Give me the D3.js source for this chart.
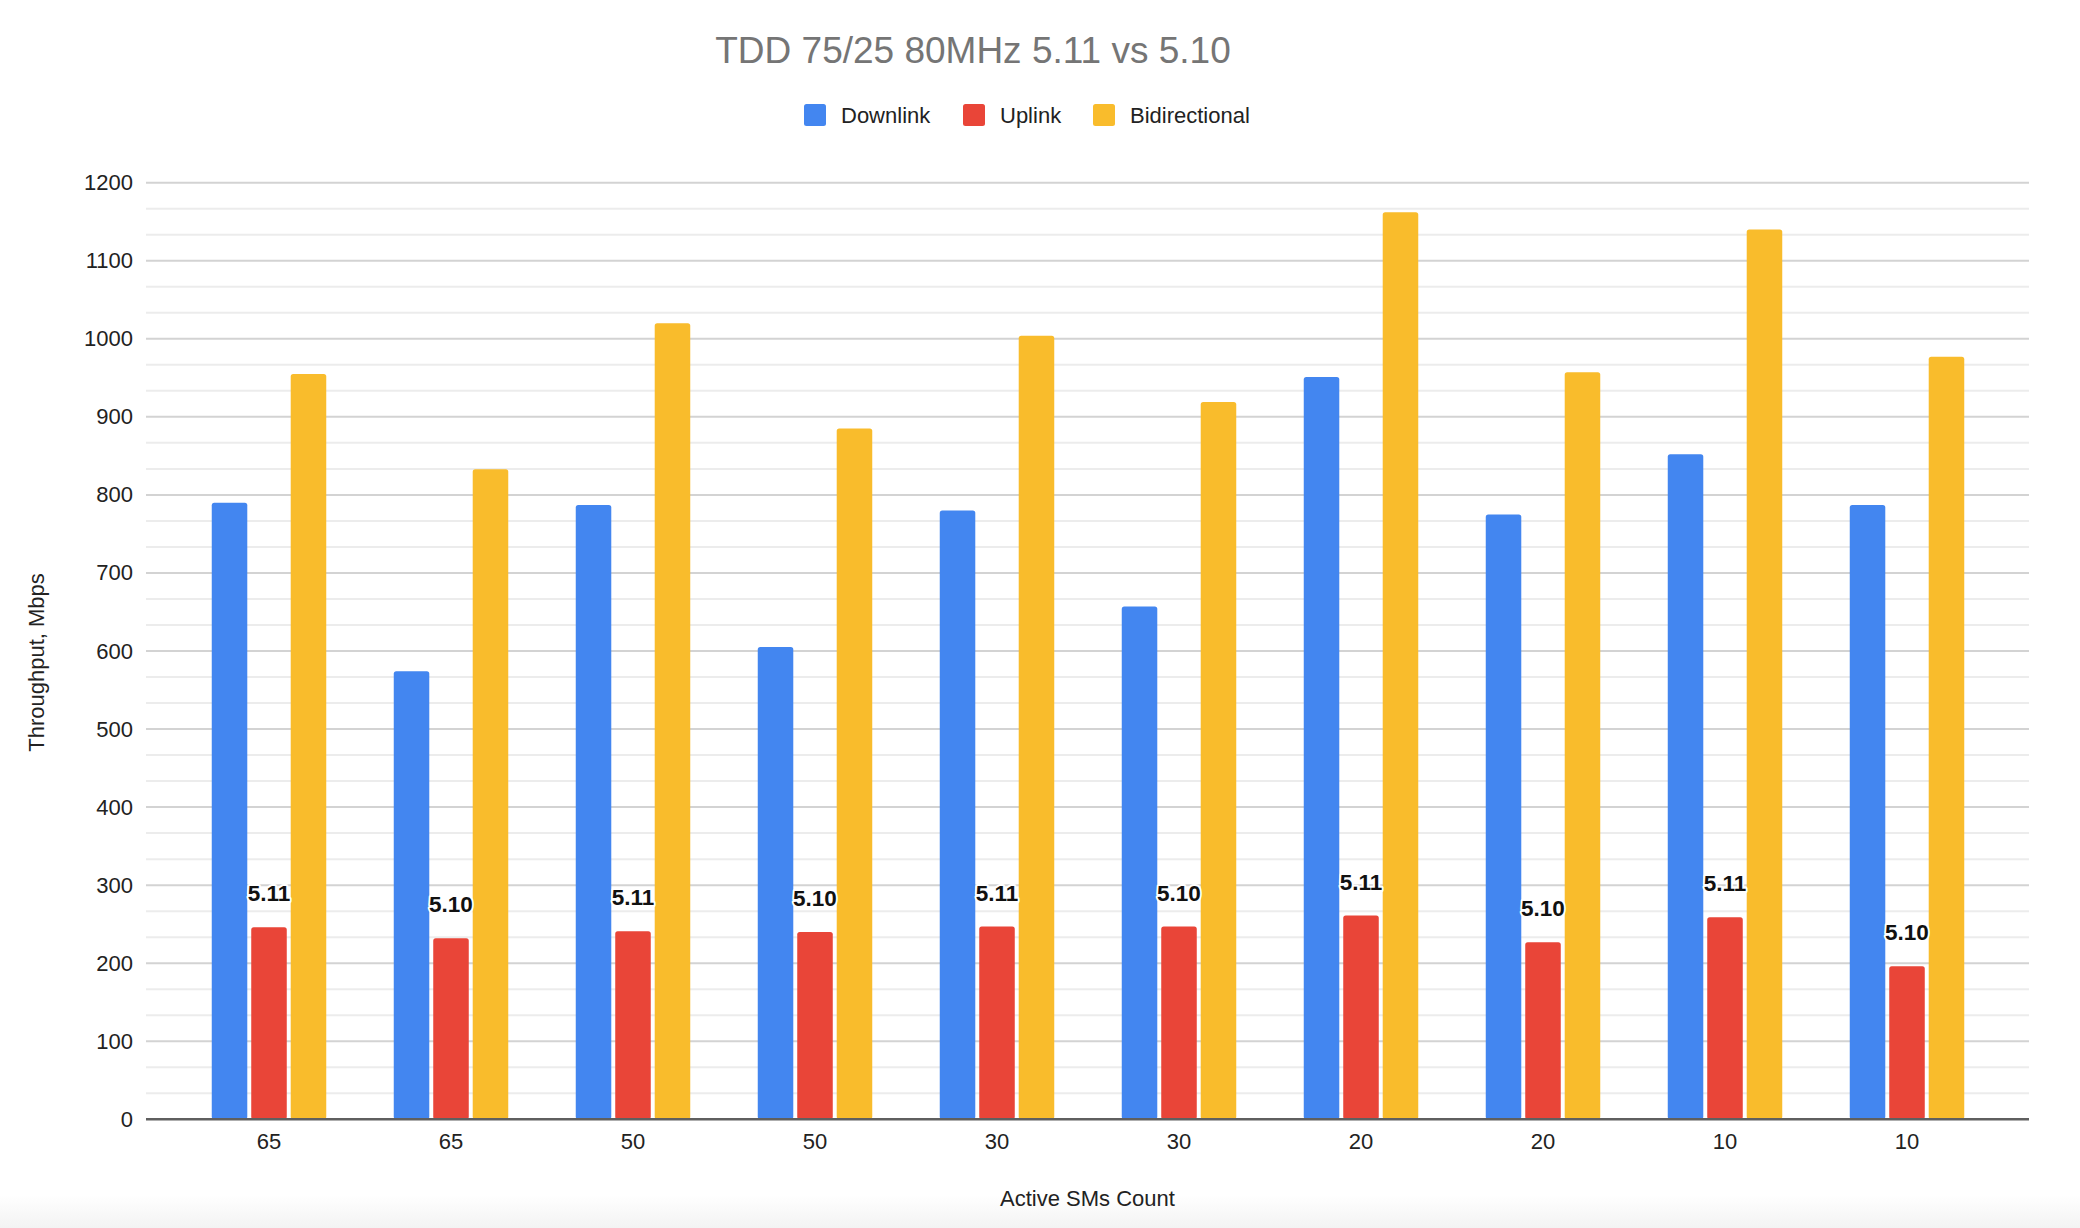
<!DOCTYPE html>
<html>
<head>
<meta charset="utf-8">
<script src="https://cdn.jsdelivr.net/npm/d3@7"></script>
<style>
  html, body { margin: 0; padding: 0; background: #fff; }
  svg { display: block; font-family: "Liberation Sans", Arial, Helvetica, sans-serif; }
</style>
</head>
<body>
<svg id="chart" width="2080" height="1228"></svg>
<script>
// ---- Data ----
const categories = ["65", "65", "50", "50", "30", "30", "20", "20", "10", "10"];
const seriesNames = ["Downlink", "Uplink", "Bidirectional"];
const downlink = [790, 574, 787, 605, 780, 657, 951, 775, 852, 787];
const uplink = [246, 232, 241, 240, 247, 247, 261, 227, 259, 196];
const bidirectional = [955, 833, 1020, 885, 1004, 919, 1162, 957, 1140, 977];
const uplinkLabels = ["5.11", "5.10", "5.11", "5.10", "5.11", "5.10", "5.11", "5.10", "5.11", "5.10"];
const yTicks = [0, 100, 200, 300, 400, 500, 600, 700, 800, 900, 1000, 1100, 1200];
const titleText = "TDD 75/25 80MHz 5.11 vs 5.10";
const xTitle = "Active SMs Count";
const yTitle = "Throughput, Mbps";

const colors = { Downlink: "#4386f0", Uplink: "#e94538", Bidirectional: "#f9bc2c" };
const seriesValues = { Downlink: downlink, Uplink: uplink, Bidirectional: bidirectional };

// ---- Layout ----
const W = 2080, H = 1228;
const plotLeft = 146, plotRight = 2029;
const yTop = 182.7, yBottom = 1119.3;

const svg = d3.select("#chart");

// subtle bottom shading (screenshot background)
const defs = svg.append("defs");
const grad = defs.append("linearGradient").attr("id", "bottomShade").attr("x1", 0).attr("y1", 0).attr("x2", 0).attr("y2", 1);
grad.append("stop").attr("offset", "0%").attr("stop-color", "#ffffff");
grad.append("stop").attr("offset", "100%").attr("stop-color", "#f3f3f3");
svg.append("rect").attr("x", 0).attr("y", 1195).attr("width", W).attr("height", H - 1195).attr("fill", "url(#bottomShade)");

const y = d3.scaleLinear().domain([0, 1200]).range([yBottom, yTop]);
const x0 = d3.scaleBand().domain(d3.range(categories.length)).range([178, 1998]).padding(0);
const x1 = d3.scaleBand().domain(seriesNames).range([33.75, x0.bandwidth() - 33.75]).paddingInner(0.1).paddingOuter(0);

// minor gridlines (3 subdivisions per 100)
const minorVals = [];
for (let i = 0; i < yTicks.length - 1; i++) {
  const a = yTicks[i], b = yTicks[i + 1];
  minorVals.push(a + (b - a) / 3, a + 2 * (b - a) / 3);
}
svg.append("g").selectAll("line").data(minorVals).join("line")
  .attr("x1", plotLeft).attr("x2", plotRight)
  .attr("y1", d => y(d)).attr("y2", d => y(d))
  .attr("stroke", "#ececec").attr("stroke-width", 2);

// major gridlines
svg.append("g").selectAll("line").data(yTicks.filter(d => d !== 0)).join("line")
  .attr("x1", plotLeft).attr("x2", plotRight)
  .attr("y1", d => y(d)).attr("y2", d => y(d))
  .attr("stroke", "#d3d3d3").attr("stroke-width", 2);

// y axis labels
const yAxis = svg.append("g").attr("transform", `translate(${plotLeft},0)`)
  .call(d3.axisLeft(y).tickValues(yTicks).tickSize(0).tickPadding(13).tickFormat(d3.format("d")));
yAxis.select(".domain").remove();
yAxis.selectAll("text").attr("font-size", 22).attr("fill", "#222")
  .attr("font-family", "'Liberation Sans', Arial, sans-serif");

// bars
const groups = svg.append("g").selectAll("g").data(d3.range(categories.length)).join("g")
  .attr("transform", i => `translate(${x0(i)},0)`);
groups.selectAll("rect").data(i => seriesNames.map(s => ({ s, v: seriesValues[s][i] }))).join("rect")
  .attr("x", d => x1(d.s))
  .attr("width", x1.bandwidth())
  .attr("y", d => y(d.v))
  .attr("height", d => y(0) - y(d.v))
  .attr("rx", 2.5).attr("ry", 2.5)
  .attr("fill", d => colors[d.s]);

// zero baseline
svg.append("line").attr("x1", plotLeft).attr("x2", plotRight)
  .attr("y1", y(0)).attr("y2", y(0))
  .attr("stroke", "#5f5f5f").attr("stroke-width", 2.5);

// x axis labels
const xAxis = svg.append("g").attr("transform", `translate(0,${y(0)})`)
  .call(d3.axisBottom(x0).tickSize(0).tickPadding(14).tickFormat(i => categories[i]));
xAxis.select(".domain").remove();
xAxis.selectAll("text").attr("font-size", 22).attr("fill", "#222")
  .attr("font-family", "'Liberation Sans', Arial, sans-serif");

// uplink data labels
svg.append("g").selectAll("text").data(d3.range(categories.length)).join("text")
  .attr("x", i => x0(i) + x1("Uplink") + x1.bandwidth() / 2)
  .attr("y", i => y(uplink[i]) - 26)
  .attr("text-anchor", "middle")
  .attr("font-size", 22.5).attr("font-weight", "bold").attr("fill", "#111")
  .attr("stroke", "#fff").attr("stroke-width", 4).attr("stroke-linejoin", "round")
  .attr("paint-order", "stroke")
  .text(i => uplinkLabels[i]);

// title
svg.append("text").attr("x", 973).attr("y", 62.5).attr("text-anchor", "middle")
  .attr("font-size", 37).attr("fill", "#757575").text(titleText);

// legend
const legendItems = [
  { name: "Downlink", x: 804 },
  { name: "Uplink", x: 963 },
  { name: "Bidirectional", x: 1093 }
];
const lg = svg.append("g");
lg.selectAll("rect").data(legendItems).join("rect")
  .attr("x", d => d.x).attr("y", 104).attr("width", 22).attr("height", 22)
  .attr("rx", 2.5).attr("fill", d => colors[d.name]);
lg.selectAll("text").data(legendItems).join("text")
  .attr("x", d => d.x + 37).attr("y", 123)
  .attr("font-size", 22).attr("fill", "#222").text(d => d.name);

// axis titles
svg.append("text").attr("x", (plotLeft + plotRight) / 2).attr("y", 1206)
  .attr("text-anchor", "middle").attr("font-size", 22).attr("fill", "#222").text(xTitle);
svg.append("text").attr("transform", `translate(44,${662.5}) rotate(-90)`)
  .attr("text-anchor", "middle").attr("font-size", 22).attr("fill", "#222").text(yTitle);
</script>
</body>
</html>
